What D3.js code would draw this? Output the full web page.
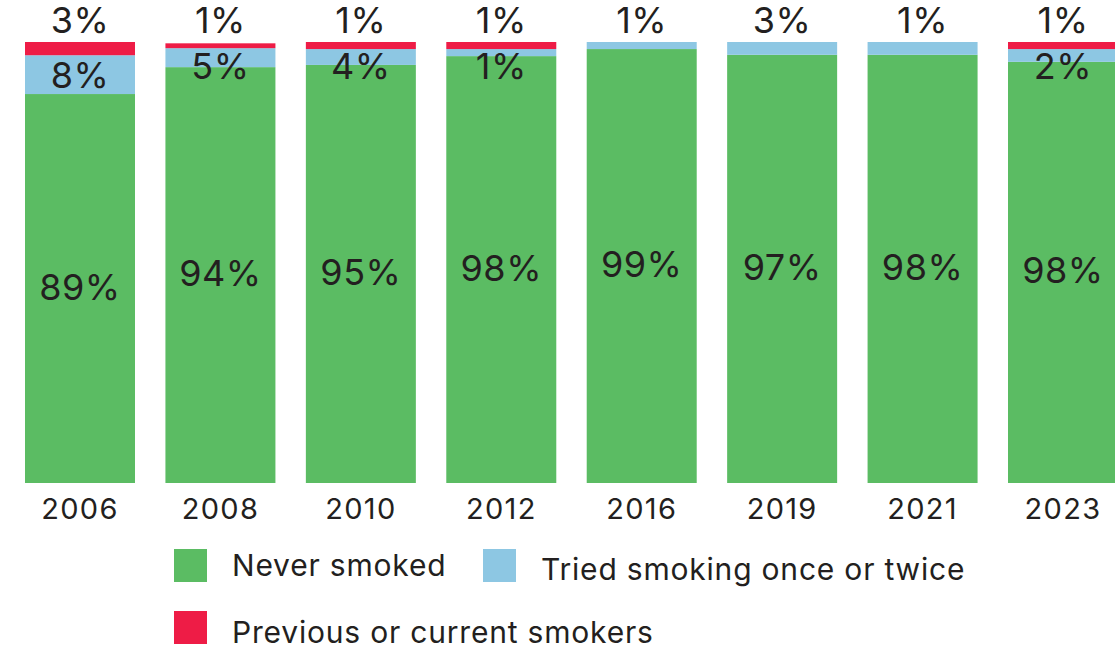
<!DOCTYPE html>
<html>
<head>
<meta charset="utf-8">
<script src="https://cdn.jsdelivr.net/npm/d3@7"></script>
<style>
  html, body { margin: 0; padding: 0; background: #fff; }
  svg { display: block; font-family: Inter, "Noto Sans", sans-serif; }
</style>
</head>
<body>
<svg id="chart" width="1115" height="646"></svg>
<script>
// ---- data ----
const years = ["2006", "2008", "2010", "2012", "2016", "2019", "2021", "2023"];
const neverSmoked = [88.2, 94.3, 94.8, 96.8, 98.4, 97.1, 97.1, 95.5];
const triedOnce   = [8.8, 4.3, 3.6, 1.6, 1.6, 2.9, 2.9, 2.9];
const smokers     = [3.0, 1.1, 1.6, 1.6, 0, 0, 0, 1.6];
const neverLabels  = ["89%", "94%", "95%", "98%", "99%", "97%", "98%", "98%"];
const triedLabels  = ["8%", "5%", "4%", "1%", "1%", "3%", "1%", "2%"];
const smokerLabels = ["3%", "1%", "1%", "1%", "", "", "", "1%"];
const seriesNames  = ["Never smoked", "Tried smoking once or twice", "Previous or current smokers"];
const seriesColors = ["#5bbc63", "#8dc7e3", "#ee1c46"];

const rows = years.map((y, i) => ({
  year: y, never: neverSmoked[i], tried: triedOnce[i], smokers: smokers[i], i
}));
const keys = ["never", "tried", "smokers"];

const svg = d3.select("#chart");
const x = d3.scaleBand().domain(years).range([25, 1118]).paddingInner(0.2167).paddingOuter(0);
const y = d3.scaleLinear().domain([0, 100]).range([483, 42]);
const color = d3.scaleOrdinal().domain(keys).range(seriesColors);

const stack = d3.stack().keys(keys)(rows);

svg.append("g").selectAll("g").data(stack).join("g")
  .attr("fill", d => color(d.key))
  .selectAll("rect").data(d => d.filter(s => s[1] - s[0] > 0)).join("rect")
  .attr("x", d => x(d.data.year))
  .attr("width", x.bandwidth())
  .attr("y", d => y(d[1]))
  .attr("height", d => y(d[0]) - y(d[1]));

const txt = "#231f20";
const labelG = svg.append("g")
  .attr("text-anchor", "middle")
  .attr("fill", txt)
  .attr("font-size", 36)
  .attr("letter-spacing", 0.5);

const sNever = stack[0], sTried = stack[1];
labelG.selectAll("text.never").data(sNever).join("text")
  .attr("class", "never")
  .attr("x", d => x(d.data.year) + x.bandwidth() / 2)
  .attr("y", d => (y(d[0]) + y(d[1])) / 2 + 11)
  .text((d, i) => neverLabels[i]);

// top labels
labelG.selectAll("text.top").data(rows).join("text")
  .attr("class", "top")
  .attr("x", d => x(d.year) + x.bandwidth() / 2)
  .attr("y", y(100) - 9)
  .text(d => d.smokers > 0 ? smokerLabels[d.i] : triedLabels[d.i]);

// inner blue labels (only when red segment exists)
labelG.selectAll("text.tried").data(sTried.filter(d => d.data.smokers > 0)).join("text")
  .attr("class", "tried")
  .attr("x", d => x(d.data.year) + x.bandwidth() / 2)
  .attr("y", d => Math.max((y(d[0]) + y(d[1])) / 2, y(100) + 24) + 13)
  .text(d => triedLabels[d.data.i]);

// x axis labels
const xAxis = d3.axisBottom(x).tickSize(0).tickPadding(0);
const ax = svg.append("g").attr("transform", "translate(0,519)").call(xAxis);
ax.select(".domain").remove();
ax.selectAll("text")
  .attr("font-size", 29)
  .attr("font-family", "Inter, 'Noto Sans', sans-serif")
  .attr("letter-spacing", 1.3)
  .attr("fill", txt)
  .attr("dy", 0)
  .attr("y", 0);

// legend
const legendPos = [
  { sx: 174, sy: 549, ty: 576 },
  { sx: 483, sy: 549, ty: 580 },
  { sx: 174, sy: 611, ty: 643 }
];
const lg = svg.append("g");
seriesNames.forEach((name, i) => {
  const p = legendPos[i];
  lg.append("rect").attr("x", p.sx).attr("y", p.sy).attr("width", 33).attr("height", 33)
    .attr("fill", seriesColors[i]);
  lg.append("text").attr("x", p.sx + 58).attr("y", p.ty)
    .attr("font-size", 30).attr("letter-spacing", 0.8).attr("fill", txt).text(name);
});
</script>
</body>
</html>
